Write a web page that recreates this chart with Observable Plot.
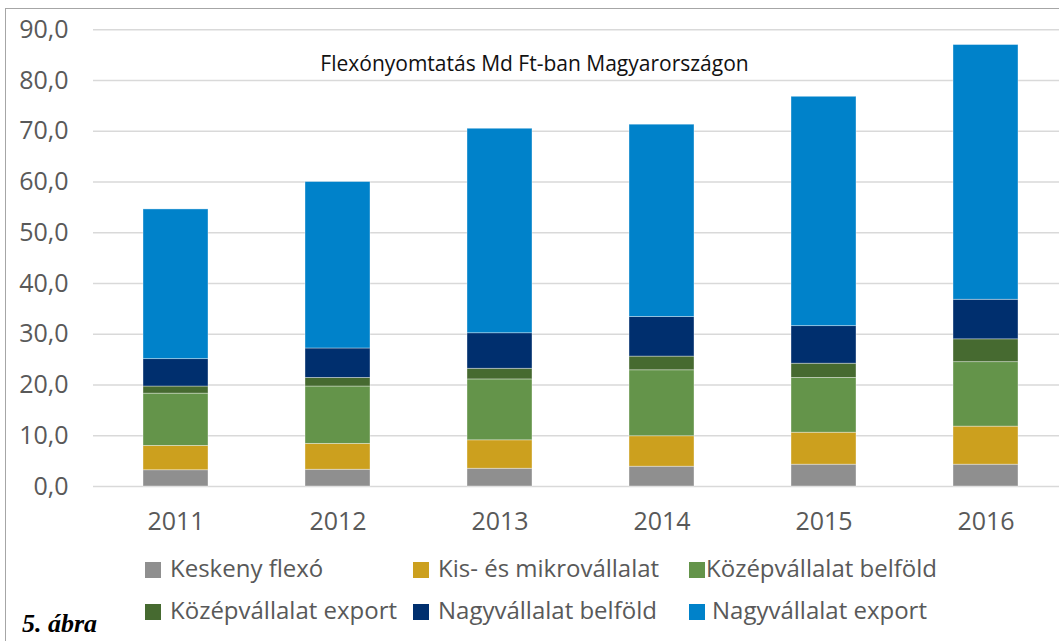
<!DOCTYPE html>
<html>
<head>
<meta charset="utf-8">
<script src="https://cdn.jsdelivr.net/npm/d3@7"></script>
<script src="https://cdn.jsdelivr.net/npm/@observablehq/plot@0.6"></script>
<style>
  html, body { margin: 0; padding: 0; background: #fff; overflow: hidden; width: 1059px; height: 641px; }
  #wrap { position: relative; width: 1059px; height: 641px; overflow: hidden; }
  #frame { position: absolute; left: 5px; top: 8px; width: 1100px; height: 700px; border: 1.5px solid #a6a6a6; box-sizing: border-box; }
  #chart { position: absolute; left: 0; top: 0; width: 1068px; }
  #chart svg { max-width: none !important; width: 1068px !important; height: 545px !important; }
  .leg { position: absolute; font-family: "Open Sans", sans-serif; font-size: 24px; color: #595959; white-space: nowrap; line-height: 1; }
  .sw { position: absolute; width: 16px; height: 16px; }
  #abra { position: absolute; left: 22px; top: 609px; font-family: "Liberation Serif", serif; font-weight: bold; font-style: italic; font-size: 26px; color: #000; }
</style>
</head>
<body>
<div id="wrap">
  <div id="frame"></div>
  <div id="chart"></div>
  <div id="legend"></div>
  <div id="abra">5. ábra</div>
</div>
<script>
const years = ["2011", "2012", "2013", "2014", "2015", "2016"];
const seriesNames = ["Keskeny flexó", "Kis- és mikrovállalat", "Középvállalat belföld", "Középvállalat export", "Nagyvállalat belföld", "Nagyvállalat export"];
const keskenyFlexo = [3.2, 3.3, 3.5, 3.9, 4.3, 4.3];
const kisMikro = [4.8, 5.1, 5.6, 6.0, 6.3, 7.5];
const kozepBelfold = [10.3, 11.3, 12.0, 13.0, 10.8, 12.7];
const kozepExport = [1.4, 1.7, 2.1, 2.7, 2.8, 4.5];
const nagyBelfold = [5.4, 5.8, 7.0, 7.8, 7.4, 7.8];
const nagyExport = [29.5, 32.8, 40.3, 37.9, 45.2, 50.2];
const colors = ["#8f8f8f", "#cca01e", "#64944a", "#466a30", "#002f6e", "#0082ca"];
const yTicks = [0, 10, 20, 30, 40, 50, 60, 70, 80, 90];
const title = "Flexónyomtatás Md Ft-ban Magyarországon";

const seriesValues = [keskenyFlexo, kisMikro, kozepBelfold, kozepExport, nagyBelfold, nagyExport];
const data = [];
seriesNames.forEach((s, i) => {
  years.forEach((y, j) => data.push({year: y, series: s, value: seriesValues[i][j]}));
});

const fmt = d => d.toFixed(1).replace(".", ",");

const chart = Plot.plot({
  width: 1068,
  height: 545,
  marginLeft: 93,
  marginRight: 1,
  marginTop: 29.3,
  marginBottom: 59,
  style: {fontFamily: "'Open Sans', sans-serif", fontSize: "25px", color: "#595959", background: "transparent"},
  x: {domain: years, paddingInner: 0.6, paddingOuter: 0.3, align: 0.5, label: null},
  y: {domain: [0, 90], ticks: yTicks, tickFormat: fmt, label: null},
  color: {domain: seriesNames, range: colors},
  marks: [
    Plot.gridY(yTicks, {stroke: "#d9d9d9", strokeOpacity: 1, strokeWidth: 1.5}),
    Plot.barY(data, {x: "year", y: "value", fill: "series", stroke: "#ffffff", strokeWidth: 0.8, strokeOpacity: 0.45}),
    Plot.axisX({tickSize: 0, tickPadding: 26, fill: "#595959", fontSize: 25}),
    Plot.axisY(yTicks, {tickSize: 0, tickPadding: 25, tickFormat: fmt, fill: "#595959", fontSize: 25}),
    Plot.text([title], {frameAnchor: "top", dx: -46, dy: 26, fontSize: 21, fill: "#111", fontFamily: "'Open Sans', sans-serif"})
  ]
});
document.getElementById("chart").appendChild(chart);

// legend (HTML, below the SVG area)
const legPos = [
  [145, 570], [413, 570], [689, 570],
  [145, 612], [413, 612], [689, 612]
];
const textGap = [25, 25, 17, 25, 25, 23];
const legend = document.getElementById("legend");
seriesNames.forEach((s, i) => {
  const [x, y] = legPos[i];
  const sw = document.createElement("div");
  sw.className = "sw";
  sw.style.left = x + "px";
  sw.style.top = (y - 8) + "px";
  sw.style.background = colors[i];
  legend.appendChild(sw);
  const t = document.createElement("div");
  t.className = "leg";
  t.textContent = s;
  t.style.left = (x + textGap[i]) + "px";
  t.style.top = (y - 14) + "px";
  legend.appendChild(t);
});
</script>
</body>
</html>
